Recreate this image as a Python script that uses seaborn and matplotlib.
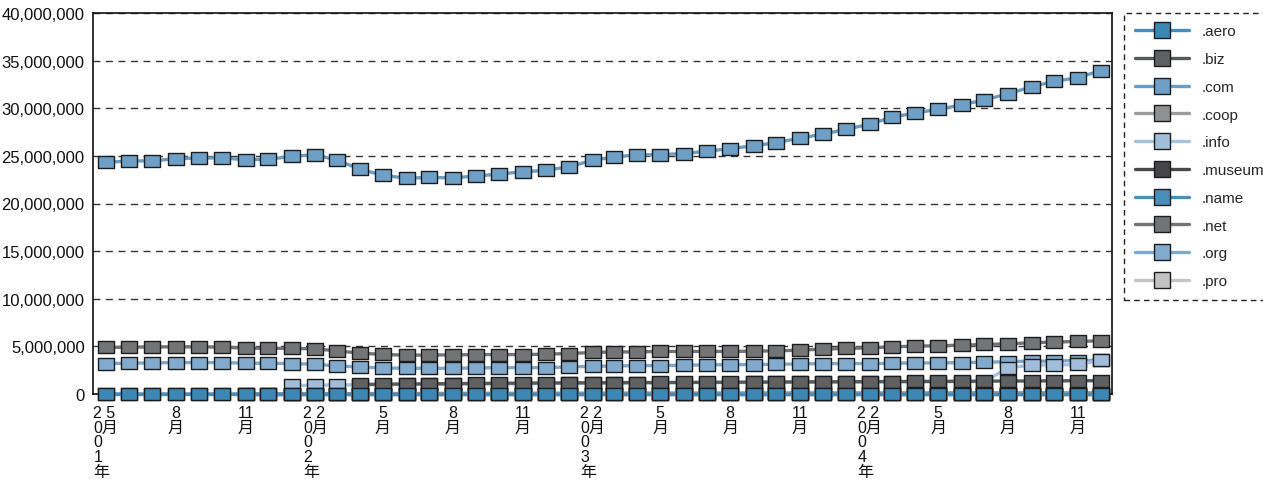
"""Monthly domain registrations per gTLD, 2001-2004."""

import matplotlib

matplotlib.use("Agg")
import matplotlib.pyplot as plt
import matplotlib.ticker as mticker
import pandas as pd
import seaborn as sns
from matplotlib.lines import Line2D
from matplotlib.path import Path

# monthly points, May 2001 .. Dec 2004 (values in millions)
months = pd.date_range("2001-05-01", "2004-12-01", freq="MS")

com = [24.32, 24.47, 24.47, 24.71, 24.78, 24.78, 24.60, 24.64, 24.95, 25.13,
       24.53, 23.62, 22.94, 22.67, 22.73, 22.70, 22.88, 23.09, 23.33, 23.47,
       23.86, 24.53, 24.89, 25.10, 25.13, 25.24, 25.48, 25.77, 26.05, 26.40,
       26.86, 27.28, 27.78, 28.34, 29.05, 29.51, 29.89, 30.35, 30.88, 31.51,
       32.25, 32.83, 33.21, 33.95]
net = [4.89, 4.92, 4.95, 4.95, 4.95, 4.92, 4.81, 4.81, 4.78, 4.74,
       4.53, 4.29, 4.15, 4.07, 4.10, 4.10, 4.14, 4.14, 4.14, 4.18,
       4.25, 4.36, 4.42, 4.42, 4.47, 4.47, 4.47, 4.47, 4.50, 4.53,
       4.60, 4.71, 4.78, 4.85, 4.95, 5.03, 5.06, 5.13, 5.20, 5.27,
       5.38, 5.45, 5.52, 5.59]
org = [3.20, 3.23, 3.26, 3.30, 3.30, 3.30, 3.23, 3.23, 3.20, 3.12,
       2.94, 2.84, 2.73, 2.70, 2.70, 2.70, 2.73, 2.77, 2.77, 2.77,
       2.84, 2.91, 2.94, 2.98, 2.98, 3.02, 3.05, 3.09, 3.09, 3.12,
       3.16, 3.19, 3.19, 3.19, 3.23, 3.26, 3.26, 3.30, 3.33, 3.40,
       3.44, 3.47, 3.51, 3.55]
info = [None, None, None, None, None, None, None, None, 0.90, 0.93,
        0.95, 0.97, 0.99, 1.01, 1.03, 1.04, 1.06, 1.07, 1.08, 1.10,
        1.11, 1.13, 1.14, 1.15, 1.17, 1.18, 1.19, 1.20, 1.21, 1.22,
        1.23, 1.24, 1.25, 1.26, 1.27, 1.28, 1.29, 1.30, 1.31, 2.73,
        3.05, 3.05, 3.10, 3.54]
biz = [None, None, None, None, None, None, None, None, None, None,
       None, 1.00, 1.03, 1.05, 1.07, 1.09, 1.11, 1.13, 1.14, 1.16,
       1.17, 1.18, 1.19, 1.20, 1.21, 1.22, 1.23, 1.24, 1.25, 1.26,
       1.27, 1.28, 1.29, 1.30, 1.31, 1.32, 1.33, 1.34, 1.35, 1.36,
       1.37, 1.38, 1.39, 1.40]
name = [0.00, 0.00, 0.00, 0.00, 0.00, 0.00, 0.00, 0.00, 0.01, 0.02,
        0.03, 0.04, 0.05, 0.05, 0.06, 0.06, 0.07, 0.07, 0.07, 0.08,
        0.08, 0.08, 0.08, 0.09, 0.09, 0.09, 0.09, 0.09, 0.10, 0.10,
        0.10, 0.10, 0.10, 0.10, 0.10, 0.10, 0.11, 0.11, 0.11, 0.11,
        0.11, 0.11, 0.11, 0.11]
aero = [0.00, 0.00, 0.00, 0.00, 0.00, 0.00, 0.00, 0.00, 0.00, 0.00,
        0.00, 0.00, 0.00, 0.00, 0.00, 0.00, 0.00, 0.00, 0.00, 0.00,
        0.00, 0.00, 0.00, 0.00, 0.00, 0.00, 0.00, 0.00, 0.00, 0.00,
        0.00, 0.00, 0.00, 0.00, 0.00, 0.00, 0.00, 0.00, 0.00, 0.00,
        0.00, 0.00, 0.00, 0.00]
coop = [None, None, None, None, None, None, None, None, 0.00, 0.00,
        0.00, 0.00, 0.01, 0.01, 0.01, 0.01, 0.01, 0.01, 0.01, 0.01,
        0.01, 0.01, 0.01, 0.01, 0.01, 0.01, 0.01, 0.01, 0.01, 0.01,
        0.01, 0.01, 0.01, 0.01, 0.01, 0.01, 0.01, 0.01, 0.01, 0.01,
        0.01, 0.01, 0.01, 0.01]
museum = [None, None, None, None, None, None, 0.00, 0.00, 0.00, 0.00,
          0.00, 0.00, 0.00, 0.00, 0.00, 0.00, 0.00, 0.00, 0.00, 0.00,
          0.00, 0.00, 0.00, 0.00, 0.00, 0.00, 0.00, 0.00, 0.00, 0.00,
          0.00, 0.00, 0.00, 0.00, 0.00, 0.00, 0.00, 0.00, 0.00, 0.00,
          0.00, 0.00, 0.00, 0.00]
pro = [None, None, None, None, None, None, None, None, None, None,
       None, None, None, None, None, None, None, None, None, None,
       None, None, None, None, None, None, None, None, None, None,
       None, None, None, None, None, None, 0.00, 0.00, 0.00, 0.00,
       0.00, 0.01, 0.01, 0.01]

tlds = [".aero", ".biz", ".com", ".coop", ".info",
        ".museum", ".name", ".net", ".org", ".pro"]
series = [aero, biz, com, coop, info, museum, name, net, org, pro]

face_colors = ["#3c87b3", "#5f6062", "#6e9fc6", "#8f9092", "#a2bdd9",
               "#454547", "#4a8db8", "#737476", "#81aacd", "#c2c2c2"]
line_colors = ["#4a8ab5", "#58595b", "#6a9cc4", "#9c9c9c", "#a7c2dc",
               "#48484a", "#4a8db8", "#747476", "#7ea8cb", "#c4c4c4"]

tick_dates = ["2001-05-01", "2001-08-01", "2001-11-01",
              "2002-02-01", "2002-05-01", "2002-08-01", "2002-11-01",
              "2003-02-01", "2003-05-01", "2003-08-01", "2003-11-01",
              "2004-02-01", "2004-05-01", "2004-08-01", "2004-11-01"]
tick_labels = ["2 5\n0月\n0\n1\n年", "8\n月", "11\n月",
               "2 2\n0月\n0\n2\n年", "5\n月", "8\n月", "11\n月",
               "2 2\n0月\n0\n3\n年", "5\n月", "8\n月", "11\n月",
               "2 2\n0月\n0\n4\n年", "5\n月", "8\n月", "11\n月"]

frames = []
for tld, vals in zip(tlds, series):
    frames.append(pd.DataFrame({"month": months, "tld": tld, "count": vals}))
df = pd.concat(frames, ignore_index=True).dropna()
df["count"] = df["count"].astype(float) * 1e6

sns.set_style("white")
plt.rcParams["font.family"] = ["Liberation Sans", "Noto Sans CJK JP"]

fig = plt.figure(figsize=(12.63, 4.81), dpi=100)
ax = fig.add_axes([93 / 1263, 1 - 395 / 481, (1112 - 93) / 1263, (395 - 14) / 481])

# wide, short box markers
box = Path([(-1.35, -1), (1.35, -1), (1.35, 1), (-1.35, 1), (-1.35, -1)],
           [Path.MOVETO, Path.LINETO, Path.LINETO, Path.LINETO, Path.CLOSEPOLY])

# later series sit underneath: draw in reverse order
draw_order = tlds[::-1]
sns.lineplot(
    data=df,
    x="month",
    y="count",
    hue="tld",
    hue_order=draw_order,
    palette=dict(zip(tlds, line_colors)),
    marker=box,
    markersize=12.2,
    markeredgecolor="#1c1c1c",
    markeredgewidth=1.0,
    linewidth=2.4,
    legend=False,
    ax=ax,
)
for line, tld in zip(ax.lines, draw_order):
    line.set_markerfacecolor(face_colors[tlds.index(tld)])
    line.set_zorder(3)
    line.set_clip_on(False)

ax.set_ylim(0, 40e6)
ax.set_xlim(pd.Timestamp("2001-04-14"), pd.Timestamp("2004-12-16"))
ax.yaxis.set_major_locator(mticker.MultipleLocator(5e6))
ax.yaxis.set_major_formatter(mticker.FuncFormatter(lambda v, _: f"{v:,.0f}"))
ax.grid(False)
ax.yaxis.grid(True, linestyle=(0, (5, 4)), color="#333333", linewidth=1.0)
ax.set_axisbelow(True)

ax.set_xticks(pd.to_datetime(tick_dates))
ax.set_xticklabels(tick_labels, ha="center", linespacing=0.97)
for lbl in ax.get_xticklabels():
    # year labels keep their digit column flush left
    lbl.set_multialignment("left" if "年" in lbl.get_text() else "center")
ax.tick_params(axis="y", length=0, labelsize=12, colors="#111111", pad=6)
ax.tick_params(axis="x", length=0, labelsize=11.5, colors="#111111", pad=8)
ax.set_xlabel("")
ax.set_ylabel("")

for side, spine in ax.spines.items():
    spine.set_visible(True)
    spine.set_color("#111111")
    spine.set_linewidth(1.2)

handles = [
    Line2D([], [], color=lc, linewidth=2.4, marker="s", markersize=11.5,
           markerfacecolor=fc, markeredgecolor="#1c1c1c", markeredgewidth=1.0)
    for fc, lc in zip(face_colors, line_colors)
]
leg = fig.legend(
    handles,
    tlds,
    loc="upper left",
    bbox_to_anchor=(1124 / 1263, 1 - 14 / 481),
    borderaxespad=0,
    fontsize=11,
    handlelength=3.5,
    handletextpad=0.85,
    labelspacing=0.9,
    borderpad=0.75,
    fancybox=False,
    framealpha=1,
)
frame = leg.get_frame()
frame.set_edgecolor("#222222")
frame.set_linestyle((0, (4, 3)))
frame.set_linewidth(1.0)

fig.savefig("out.png", dpi=100)
